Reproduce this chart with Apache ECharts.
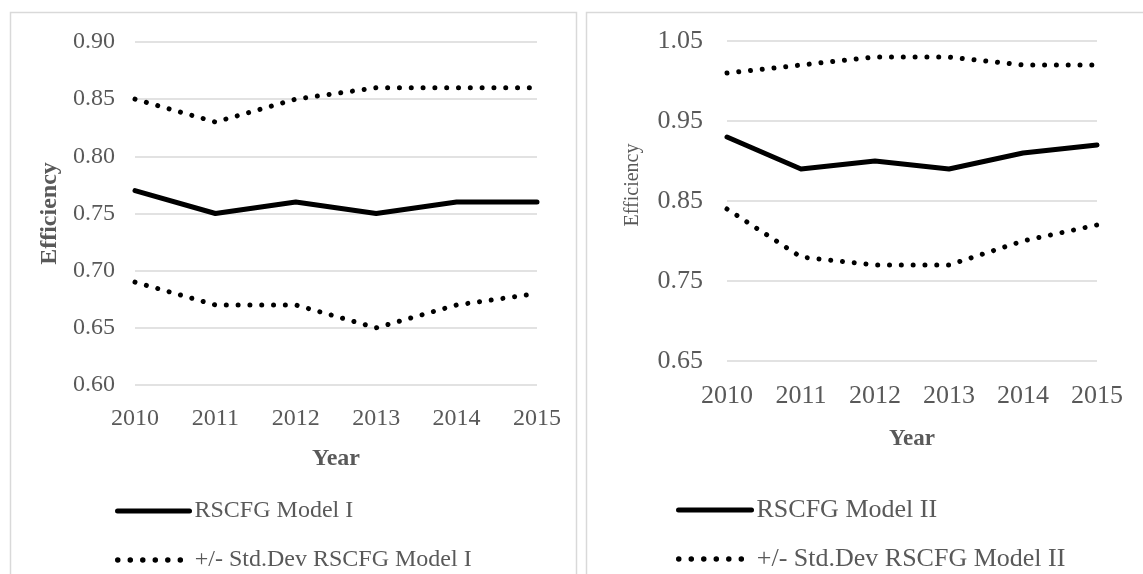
<!DOCTYPE html>
<html>
<head>
<meta charset="utf-8">
<script src="https://cdn.jsdelivr.net/npm/echarts@6/dist/echarts.min.js"></script>
<style>
  html, body { margin: 0; padding: 0; background: #fff; }
  #main { width: 1143px; height: 574px; }
</style>
</head>
<body>
<div id="main"></div>
<script>
// years on the x axis (both panels)
var years = ['2010', '2011', '2012', '2013', '2014', '2015'];

// left panel - RSCFG Model I
var modelI = [0.77, 0.75, 0.76, 0.75, 0.76, 0.76];
var modelIUpper = [0.85, 0.83, 0.85, 0.86, 0.86, 0.86];
var modelILower = [0.69, 0.67, 0.67, 0.65, 0.67, 0.68];
var ticksI = [0.60, 0.65, 0.70, 0.75, 0.80, 0.85, 0.90];

// right panel - RSCFG Model II
var modelII = [0.93, 0.89, 0.90, 0.89, 0.91, 0.92];
var modelIIUpper = [1.01, 1.02, 1.03, 1.03, 1.02, 1.02];
var modelIILower = [0.84, 0.78, 0.77, 0.77, 0.80, 0.82];
var ticksII = [0.65, 0.75, 0.85, 0.95, 1.05];

var FONT = '"Liberation Serif", "Times New Roman", serif';
var GREY = '#595959';

var solid = { color: '#000', width: 5, cap: 'round', join: 'round' };
var dotted = { color: '#000', width: 5, type: [0.01, 11.8], cap: 'round' };

function lineSeries(name, data, idx, style) {
    return {
        name: name,
        type: 'line',
        xAxisIndex: idx,
        yAxisIndex: idx,
        data: data,
        symbol: 'none',
        color: '#000',
        lineStyle: style,
        silent: true,
        animation: false
    };
}

function xAx(idx, size, margin, nameSize, gap) {
    return {
        type: 'category',
        gridIndex: idx,
        data: years,
        boundaryGap: false,
        axisLine: { show: false },
        axisTick: { show: false },
        axisLabel: { color: GREY, fontFamily: FONT, fontSize: size, margin: margin },
        name: 'Year',
        nameLocation: 'middle',
        nameGap: gap,
        nameTextStyle: { color: GREY, fontFamily: FONT, fontSize: nameSize, fontWeight: 'bold' }
    };
}

function yAx(idx, min, max, ticks, size, margin, nameStyle, gap) {
    return {
        type: 'value',
        gridIndex: idx,
        min: min,
        max: max,
        axisLine: { show: false },
        axisTick: { show: false, customValues: ticks },
        axisLabel: {
            color: GREY, fontFamily: FONT, fontSize: size, margin: margin,
            customValues: ticks,
            formatter: function (v) { return v.toFixed(2); }
        },
        splitLine: { lineStyle: { color: '#d9d9d9', width: 1.5 } },
        name: 'Efficiency',
        nameLocation: 'middle',
        nameGap: gap,
        nameTextStyle: nameStyle
    };
}

function legendItem(name, left, top, size, width, style) {
    return {
        left: left, top: top, padding: 0,
        itemWidth: width, itemHeight: size,
        itemStyle: { opacity: 0 },
        lineStyle: style,
        selectedMode: false,
        textStyle: { color: GREY, fontFamily: FONT, fontSize: size, lineHeight: size },
        data: [name]
    };
}

var legendDots = { color: '#000', width: 5.5, type: [0.01, 12.5], cap: 'round' };

var chart = echarts.init(document.getElementById('main'), null, { renderer: 'canvas' });
chart.setOption({
    animation: false,
    backgroundColor: '#fff',
    graphic: [
        { type: 'rect', shape: { x: 10.5, y: 12.5, width: 566, height: 600 },
          style: { fill: 'none', stroke: '#d9d9d9', lineWidth: 1.5 }, silent: true },
        { type: 'rect', shape: { x: 586.5, y: 12.5, width: 600, height: 600 },
          style: { fill: 'none', stroke: '#d9d9d9', lineWidth: 1.5 }, silent: true }
    ],
    grid: [
        { left: 135, right: 606, top: 42, bottom: 189 },
        { left: 727, right: 46, top: 41, bottom: 213 }
    ],
    xAxis: [xAx(0, 24, 22, 24, 62), xAx(1, 26, 22, 23, 67)],
    yAxis: [
        yAx(0, 0.6, 0.9, ticksI, 24, 20,
            { color: GREY, fontFamily: FONT, fontSize: 24, fontWeight: 'bold' }, 73),
        yAx(1, 0.65, 1.05, ticksII, 26, 24,
            { color: GREY, fontFamily: FONT, fontSize: 20, padding: [0, 0, 0, 32] }, 84)
    ],
    legend: [
        legendItem('RSCFG Model I', 115, 499, 24, 72, solid),
        legendItem('+/- Std.Dev RSCFG Model I', 115, 548, 24, 72, legendDots),
        legendItem('RSCFG Model II', 676, 497, 26, 73, solid),
        legendItem('+/- Std.Dev RSCFG Model II', 676, 546, 26, 73, legendDots)
    ],
    series: [
        lineSeries('RSCFG Model I', modelI, 0, solid),
        lineSeries('+/- Std.Dev RSCFG Model I', modelIUpper, 0, dotted),
        lineSeries('+/- Std.Dev RSCFG Model I', modelILower, 0, dotted),
        lineSeries('RSCFG Model II', modelII, 1, solid),
        lineSeries('+/- Std.Dev RSCFG Model II', modelIIUpper, 1, dotted),
        lineSeries('+/- Std.Dev RSCFG Model II', modelIILower, 1, dotted)
    ]
});
</script>
</body>
</html>
